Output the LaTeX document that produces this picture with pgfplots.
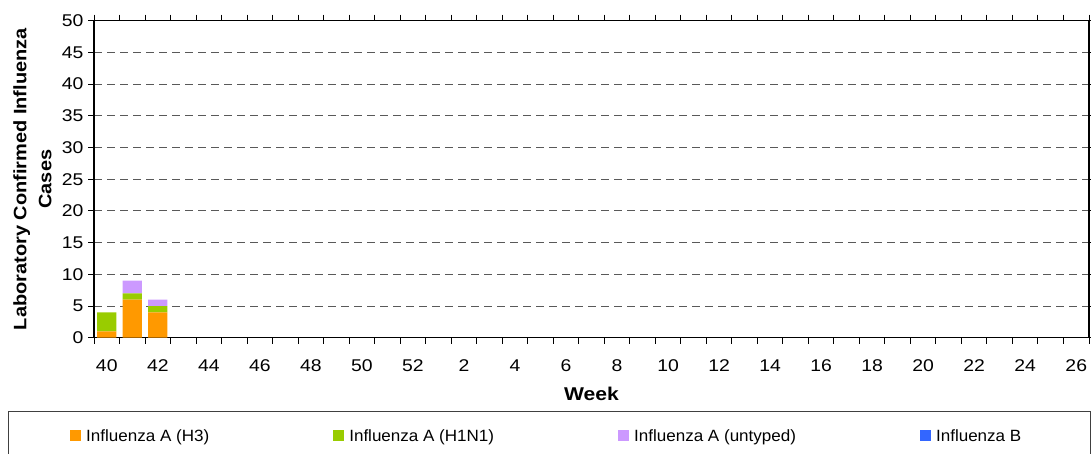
\documentclass[border=0pt]{standalone}
\usepackage{fontspec}
\setmainfont{Liberation Sans}
\newfontfamily\axfont[FakeStretch=1.14]{Liberation Sans}
\newfontfamily\ylfont[FakeStretch=1.11]{Liberation Sans}
\newfontfamily\lgfont[FakeStretch=1.045]{Liberation Sans}
\usepackage{pgfplots}
\usepackage{pgfplotstable}
\pgfplotsset{compat=1.18}
\definecolor{cH3}{HTML}{FF9900}
\definecolor{cH1}{HTML}{99CC00}
\definecolor{cUn}{HTML}{CC99FF}
\definecolor{cB}{HTML}{3366FF}
\pgfplotstableread{
x h3 h1n1 unt b
0 1 3 0 0
1 6 1 2 0
2 4 1 1 0
}\flu
\begin{document}
\begin{tikzpicture}
\useasboundingbox (0pt,0pt) rectangle (1091pt,453pt);
\draw[black!75, line width=1pt] (8pt,42pt) rectangle (1090pt,-5pt);
\begin{axis}[
  at={(94pt,115.3pt)}, anchor=south west,
  width=995pt, height=317pt, scale only axis,
  xmin=-0.5, xmax=38.5, ymin=0, ymax=50,
  ybar stacked, bar width=0.75,
  ytick={0,5,...,50},
  xtick={0,2,...,38},
  xticklabels={40,42,44,46,48,50,52,2,4,6,8,10,12,14,16,18,20,22,24,26},
  minor xtick={-0.5,0.5,...,38.5},
  tick align=outside,
  major tick length=6pt, minor tick length=6pt,
  x tick style={draw=none},
  minor x tick style={draw=black, line width=1pt},
  y tick style={black, line width=1pt},
  axis line style={black, line width=1.3pt},
  ymajorgrids,
  major grid style={black!65, line width=0.9pt, dash pattern=on 8pt off 5pt},
  /pgf/number format/assume math mode=true,
  ticklabel style={font=\axfont\fontsize{17}{20}\selectfont},
  xticklabel style={anchor=base, yshift=-28pt},
  yticklabel style={xshift=-1pt},
  xlabel={Week},
  xlabel style={font=\axfont\bfseries\fontsize{18.5}{22}\selectfont, at={(axis description cs:0.5,0)}, anchor=base, yshift=-63pt},
  ylabel={Laboratory Confirmed Influenza\\Cases},
  every axis y label/.style={at={(axis description cs:-0.0618,0.5)}, anchor=center, rotate=90, align=center,
     font=\ylfont\bfseries\fontsize{18}{25}\selectfont},
  legend columns=4,
  legend image code/.code={\fill[#1] (0pt,-5.5pt) rectangle (11pt,5.5pt);},
  legend style={draw=none, fill=none, at={(axis description cs:-0.0241,-0.310)}, anchor=west,
     font=\lgfont\fontsize{16.3}{19}\selectfont, inner sep=0pt,
     nodes={inner xsep=0pt},
     /tikz/every odd column/.append style={column sep=5pt},
     /tikz/every even column/.append style={column sep=124pt}},
]
\addplot[fill=cH3, draw=none] table[x=x, y=h3] {\flu};
\addplot[fill=cH1, draw=none] table[x=x, y=h1n1] {\flu};
\addplot[fill=cUn, draw=none] table[x=x, y=unt] {\flu};
\addplot[fill=cB, draw=none] table[x=x, y=b] {\flu};
\legend{Influenza A (H3),Influenza A (H1N1),Influenza A (untyped),Influenza B}
\end{axis}
\end{tikzpicture}
\end{document}
